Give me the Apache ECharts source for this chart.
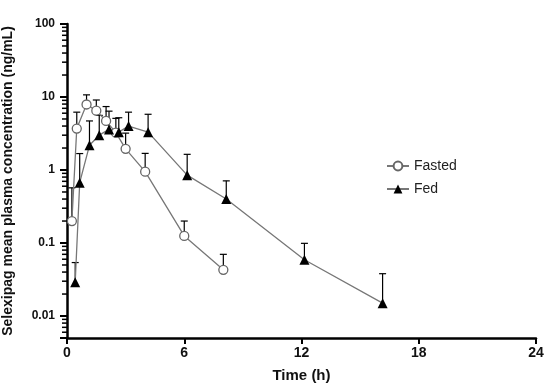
<!DOCTYPE html>
<html>
<head>
<meta charset="utf-8">
<script src="https://cdn.jsdelivr.net/npm/echarts@6/dist/echarts.min.js"></script>
<style>html,body{margin:0;padding:0;background:#fff;}#c{width:550px;height:383px;}</style>
</head>
<body>
<div id="c"></div>
<script>
// Data
var fastedTime  = [0.25, 0.5, 1, 1.5, 2, 2.5, 3, 4, 6, 8];
var fastedMean  = [0.2, 3.7, 7.9, 6.5, 4.7, 3.25, 1.95, 0.95, 0.125, 0.043];
var fastedUpper = [0.57, 6.2, 10.7, 9.1, 7.4, 5.1, 3.2, 1.69, 0.2, 0.07];

var fedTime  = [0.42, 0.65, 1.15, 1.65, 2.15, 2.65, 3.15, 4.15, 6.15, 8.15, 12.15, 16.15];
var fedMean  = [0.029, 0.67, 2.18, 3.0, 3.6, 3.3, 4.0, 3.3, 0.85, 0.40, 0.059, 0.015];
var fedUpper = [0.054, 1.68, 4.7, 5.6, 6.4, 5.2, 6.2, 5.8, 1.64, 0.71, 0.099, 0.038];

var yMajorTicks = [0.01, 0.1, 1, 10, 100];
var yTickLabels = ['0.01', '0.1', '1', '10', '100'];
var xTicks = [0, 6, 12, 18, 24];

var yMinorTicks = [];
for (var d = -3; d <= 1; d++) {
  for (var k = 2; k <= 9; k++) {
    var v = Number((k * Math.pow(10, d)).toPrecision(3));
    if (v >= 0.005 && v <= 100) yMinorTicks.push(v);
  }
}

var FONT = 'Liberation Sans, Arial, sans-serif';

function pairs(t, a, b) {
  return t.map(function (x, i) { return b ? [x, a[i], b[i]] : [x, a[i]]; });
}

function errRender(params, api) {
  var x = api.value(0), m = api.value(1), u = api.value(2);
  var p0 = api.coord([x, m]);
  var p1 = api.coord([x, u]);
  var style = { stroke: '#000', lineWidth: 1.2, fill: null };
  return {
    type: 'group',
    children: [
      { type: 'line', shape: { x1: p0[0], y1: p0[1], x2: p1[0], y2: p1[1] }, style: style },
      { type: 'line', shape: { x1: p1[0] - 3.5, y1: p1[1], x2: p1[0] + 3.5, y2: p1[1] }, style: style }
    ]
  };
}

// minor log ticks on the y axis, placed through the axis scale
function minorTickRender(params, api) {
  var p = api.coord([0, api.value(1)]);
  return {
    type: 'line',
    shape: { x1: p[0] - 5, y1: p[1], x2: p[0], y2: p[1] },
    style: { stroke: '#000', lineWidth: 1.5 }
  };
}

var chart = echarts.init(document.getElementById('c'), null, { renderer: 'canvas' });
chart.setOption({
  animation: false,
  backgroundColor: '#fff',
  textStyle: { fontFamily: FONT },
  grid: { left: 67, right: 14, top: 24, bottom: 45, containLabel: false, outerBoundsMode: 'none' },
  legend: {
    left: 381, top: 154, orient: 'vertical',
    itemWidth: 22, itemHeight: 11, itemGap: 9,
    textStyle: { fontSize: 14, color: '#222', fontFamily: FONT },
    data: ['Fasted', 'Fed']
  },
  xAxis: {
    type: 'value', min: 0, max: 24, interval: 6,
    name: 'Time (h)', nameLocation: 'middle', nameGap: 30,
    nameTextStyle: { fontSize: 15, fontWeight: 'bold', color: '#111', fontFamily: FONT },
    axisLine: { show: true, onZero: false, lineStyle: { color: '#000', width: 2.5 } },
    axisTick: { show: true, inside: false, length: 6, lineStyle: { color: '#000', width: 2 } },
    axisLabel: { fontSize: 14, fontWeight: 'bold', color: '#111', margin: 8, fontFamily: FONT },
    splitLine: { show: false }
  },
  yAxis: {
    type: 'log', logBase: 10, min: 0.005, max: 100, position: 'left',
    name: 'Selexipag mean plasma concentration (ng/mL)', nameLocation: 'middle', nameGap: 52,
    nameTextStyle: { fontSize: 14, fontWeight: 'bold', color: '#111', fontFamily: FONT },
    axisLine: { show: true, onZero: false, lineStyle: { color: '#000', width: 2.5 } },
    axisTick: { show: true, length: 7, lineStyle: { color: '#000', width: 2 } },
    axisLabel: {
      fontSize: 12, fontWeight: 'bold', color: '#111', margin: 12, fontFamily: FONT,
      formatter: function (v) {
        var i = yMajorTicks.findIndex(function (t) { return Math.abs(t - v) / t < 1e-6; });
        return i >= 0 ? yTickLabels[i] : '';
      }
    },
    splitLine: { show: false }
  },
  series: [
    {
      type: 'custom', name: 'minorTicks', renderItem: minorTickRender, clip: false, silent: true, z: 5,
      encode: { x: 0, y: 1 },
      data: yMinorTicks.map(function (v) { return [0, v]; })
    },
    {
      type: 'custom', name: 'FastedErr', renderItem: errRender, z: 1,
      encode: { x: 0, y: [1, 2] },
      data: pairs(fastedTime, fastedMean, fastedUpper)
    },
    {
      type: 'custom', name: 'FedErr', renderItem: errRender, z: 1,
      encode: { x: 0, y: [1, 2] },
      data: pairs(fedTime, fedMean, fedUpper)
    },
    {
      type: 'line', name: 'Fasted', z: 3,
      data: pairs(fastedTime, fastedMean),
      symbol: 'circle', symbolSize: 9, showAllSymbol: true,
      lineStyle: { color: '#777', width: 1.3 },
      itemStyle: { color: '#fff', borderColor: '#666', borderWidth: 1.3 }
    },
    {
      type: 'line', name: 'Fed', z: 3,
      data: pairs(fedTime, fedMean),
      symbol: 'triangle', symbolSize: 10, showAllSymbol: true,
      lineStyle: { color: '#777', width: 1.3 },
      itemStyle: { color: '#000', borderColor: '#000', borderWidth: 0 }
    }
  ]
});
</script>
</body>
</html>
